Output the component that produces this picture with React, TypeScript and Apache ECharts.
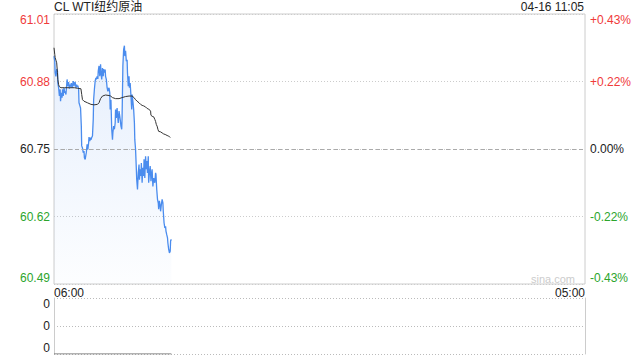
import React, { useEffect, useRef } from "react";
import * as echarts from "echarts";

const TITLE = "CL WTI纽约原油";
const STAMP = "04-16 11:05";
const WATERMARK = "sina.com";
const PREV_CLOSE = 60.75;
const PRICE_MIN = 60.49;
const PRICE_MAX = 61.01;
const PRICE_STEP = 0.13;
const SESSION_MINUTES = 1380; // 06:00 -> 05:00 next day

const xTickLabels = ["06:00", "05:00"];
const leftTickLabels = ["60.49", "60.62", "60.75", "60.88", "61.01"];
const rightTickLabels = ["-0.43%", "-0.22%", "0.00%", "+0.22%", "+0.43%"];
const volumeTickLabels = ["0", "0", "0"];

// minutes since 06:00
const priceMinutes = [
  0, 2, 3, 5, 7, 9, 10, 12, 14, 16, 17, 19, 21, 22, 24, 26, 28, 29, 31, 33,
  34, 36, 38, 40, 41, 43, 45, 47, 48, 50, 52, 53, 55, 57, 59, 60, 62, 64, 65, 67,
  69, 71, 72, 74, 76, 78, 79, 81, 83, 84, 86, 88, 90, 91, 93, 95, 96, 98, 100, 102,
  103, 105, 107, 109, 110, 112, 114, 115, 117, 119, 121, 122, 124, 126, 128, 129, 131, 133, 134, 136,
  138, 140, 141, 143, 145, 146, 148, 150, 152, 153, 155, 157, 159, 160, 162, 164, 165, 167, 169, 171,
  172, 174, 176, 177, 179, 181, 183, 184, 186, 188, 190, 191, 193, 195, 196, 198, 200, 202, 203, 205,
  207, 209, 210, 212, 214, 215, 217, 219, 221, 222, 224, 226, 227, 229, 231, 233, 234, 236, 238, 240,
  241, 243, 245, 246, 248, 250, 252, 253, 255, 257, 259, 260, 262, 264, 265, 267, 269, 271, 272, 274,
  276, 277, 279, 281, 283, 284, 286, 288, 290, 291, 293, 295, 296, 298, 300, 302, 303, 305,
];
const prices = [
  60.929, 60.919, 60.897, 60.89, 60.904, 60.9, 60.877, 60.868, 60.852, 60.865, 60.842, 60.858, 60.849, 60.865, 60.852, 60.868, 60.858, 60.861, 60.855, 60.874,
  60.884, 60.871, 60.879, 60.866, 60.874, 60.87, 60.877, 60.868, 60.872, 60.881, 60.871, 60.876, 60.879, 60.868, 60.874, 60.87, 60.872, 60.865, 60.839, 60.834,
  60.829, 60.794, 60.756, 60.752, 60.743, 60.746, 60.733, 60.73, 60.739, 60.743, 60.759, 60.749, 60.762, 60.773, 60.765, 60.772, 60.768, 60.772, 60.775, 60.807,
  60.845, 60.865, 60.881, 60.887, 60.884, 60.89, 60.885, 60.9, 60.91, 60.89, 60.913, 60.9, 60.884, 60.906, 60.89, 60.904, 60.897, 60.903, 60.89, 60.884,
  60.868, 60.861, 60.865, 60.868, 60.858, 60.826, 60.845, 60.788, 60.768, 60.781, 60.794, 60.788, 60.8, 60.826, 60.81, 60.829, 60.817, 60.8, 60.823, 60.813,
  60.807, 60.794, 60.788, 60.813, 60.91, 60.942, 60.949, 60.929, 60.939, 60.919, 60.922, 60.897, 60.871, 60.89, 60.868, 60.877, 60.852, 60.826, 60.855, 60.842,
  60.826, 60.8, 60.768, 60.749, 60.711, 60.691, 60.672, 60.704, 60.72, 60.691, 60.711, 60.698, 60.723, 60.685, 60.714, 60.698, 60.73, 60.694, 60.736, 60.711,
  60.727, 60.704, 60.736, 60.685, 60.704, 60.717, 60.688, 60.698, 60.711, 60.678, 60.694, 60.691, 60.685, 60.704, 60.701, 60.672, 60.653, 60.646, 60.634, 60.65,
  60.64, 60.63, 60.643, 60.653, 60.646, 60.63, 60.608, 60.598, 60.601, 60.592, 60.585, 60.579, 60.569, 60.557, 60.55, 60.553, 60.573, 60.576,
];

const avgMinutes = [
  0, 2, 3, 5, 7, 9, 10, 12, 14, 18, 27, 40, 53, 61, 70, 72, 74, 78, 87, 96,
  104, 113, 117, 121, 126, 134, 143, 147, 152, 160, 169, 177, 186, 195, 203, 208, 212, 216, 221, 225,
  229, 233, 238, 242, 246, 251, 252, 255, 259, 262, 264, 266, 268, 270, 272, 277, 281, 285, 289, 294,
  298, 302,
];
const avgPrices = [
  60.945, 60.932, 60.926, 60.921, 60.916, 60.897, 60.884, 60.874, 60.87, 60.868, 60.868, 60.868, 60.868, 60.867, 60.866, 60.855, 60.845, 60.842, 60.839, 60.836,
  60.835, 60.836, 60.839, 60.847, 60.852, 60.854, 60.853, 60.852, 60.849, 60.847, 60.847, 60.849, 60.851, 60.852, 60.852, 60.849, 60.845, 60.842, 60.839, 60.836,
  60.834, 60.833, 60.831, 60.828, 60.827, 60.823, 60.815, 60.813, 60.812, 60.807, 60.803, 60.797, 60.794, 60.788, 60.784, 60.783, 60.781, 60.779, 60.778, 60.776,
  60.775, 60.772,
];

const volumeMinutes = [0, 305];
const volumes = [0, 0];

const FONT = '"Liberation Sans", Arial, "Noto Sans CJK SC", sans-serif';
const RED = "#f03a3a";
const GREEN = "#2ca52c";
const DARK = "#222222";

function tickColor(i: number) {
  return i < 2 ? "g" : i === 2 ? "d" : "r";
}
function tickShift(i: number, last: number) {
  return i === 0 ? "B" : i === last ? "T" : "";
}
const rich = {
  g: { color: GREEN, fontSize: 12, fontFamily: FONT },
  d: { color: DARK, fontSize: 12, fontFamily: FONT },
  r: { color: RED, fontSize: 12, fontFamily: FONT },
  gB: { color: GREEN, fontSize: 12, fontFamily: FONT, padding: [0, 0, 13, 0] },
  rT: { color: RED, fontSize: 12, fontFamily: FONT, padding: [11, 0, 0, 0] },
  dB: { color: DARK, fontSize: 12, fontFamily: FONT, padding: [0, 0, 13, 0] },
  dT: { color: DARK, fontSize: 12, fontFamily: FONT, padding: [11, 0, 0, 0] },
};

export default function App() {
  const ref = useRef<HTMLDivElement>(null);
  useEffect(() => {
    if (!ref.current) return;
    const chart = echarts.init(ref.current, undefined, { renderer: "svg" });
    const priceData = priceMinutes.map((m, i) => [m, prices[i]]);
    const avgData = avgMinutes.map((m, i) => [m, avgPrices[i]]);
    const volData = volumeMinutes.map((m, i) => [m, volumes[i]]);
    chart.setOption({
      animation: false,
      textStyle: { fontFamily: FONT },
      title: [
        {
          text: TITLE,
          left: 54,
          top: 1,
          padding: 0,
          textStyle: { fontSize: 12, fontWeight: "normal", color: DARK, fontFamily: FONT },
        },
        {
          text: STAMP,
          right: 56,
          top: 1,
          padding: 0,
          textStyle: { fontSize: 12, fontWeight: "normal", color: DARK, fontFamily: FONT },
        },
      ],
      graphic: [
        {
          type: "text",
          right: 65,
          top: 273,
          style: { text: WATERMARK, fill: "#cccccc", font: `11px ${FONT}` },
        },
      ],
      grid: [
        { left: 54, right: 55, top: 14, height: 270, show: true, borderColor: "#cccccc", borderWidth: 1 },
        { left: 54, right: 55, top: 298, height: 56 },
      ],
      xAxis: [
        {
          gridIndex: 0,
          type: "value",
          min: 0,
          max: SESSION_MINUTES,
          interval: SESSION_MINUTES,
          axisLine: { show: false },
          axisTick: { show: false },
          splitLine: { show: false },
          axisLabel: {
            margin: 3,
            fontSize: 12,
            color: DARK,
            fontFamily: FONT,
            alignMinLabel: "left",
            alignMaxLabel: "right",
            formatter: (v: number) => (v === 0 ? xTickLabels[0] : xTickLabels[1]),
          },
        },
        { gridIndex: 1, type: "value", min: 0, max: SESSION_MINUTES, show: false },
      ],
      yAxis: [
        {
          gridIndex: 0,
          type: "value",
          position: "left",
          min: PRICE_MIN,
          max: PRICE_MAX,
          interval: PRICE_STEP,
          axisLine: { show: false },
          axisTick: { show: false },
          splitLine: { show: true, lineStyle: { color: "#cccccc", type: [1, 2], width: 1 } },
          axisLabel: {
            margin: 4,
            rich,
            formatter: (_v: number, i: number) =>
              `{${tickColor(i)}${tickShift(i, 4)}|${leftTickLabels[i] ?? ""}}`,
          },
        },
        {
          gridIndex: 0,
          type: "value",
          position: "right",
          min: PRICE_MIN,
          max: PRICE_MAX,
          interval: PRICE_STEP,
          axisLine: { show: false },
          axisTick: { show: false },
          splitLine: { show: false },
          axisLabel: {
            margin: 5,
            rich,
            formatter: (_v: number, i: number) =>
              `{${tickColor(i)}${tickShift(i, 4)}|${rightTickLabels[i] ?? ""}}`,
          },
        },
        {
          gridIndex: 1,
          type: "value",
          position: "left",
          min: 0,
          max: 2,
          interval: 1,
          axisLine: { show: true, onZero: false, lineStyle: { color: "#cccccc", width: 1 } },
          axisTick: { show: false },
          splitLine: { show: true, lineStyle: { color: "#bbbbbb", type: [1, 2], width: 1 } },
          axisLabel: {
            margin: 4,
            rich,
            formatter: (_v: number, i: number) =>
              `{d${tickShift(i, 2)}|${volumeTickLabels[i] ?? ""}}`,
          },
        },
        {
          gridIndex: 1,
          type: "value",
          position: "right",
          min: 0,
          max: 2,
          interval: 1,
          axisLine: { show: true, onZero: false, lineStyle: { color: "#cccccc", width: 1 } },
          axisTick: { show: false },
          splitLine: { show: false },
          axisLabel: { show: false },
        },
      ],
      series: [
        {
          name: "price",
          type: "line",
          xAxisIndex: 0,
          yAxisIndex: 0,
          data: priceData,
          showSymbol: false,
          symbol: "none",
          lineStyle: { color: "#4a8cee", width: 1.3 },
          areaStyle: {
            origin: "start",
            color: new echarts.graphic.LinearGradient(0, 0, 0, 1, [
              { offset: 0, color: "rgba(74,140,238,0.2)" },
              { offset: 1, color: "rgba(74,140,238,0.02)" },
            ]),
          },
          markLine: {
            silent: true,
            symbol: "none",
            label: { show: false },
            lineStyle: { color: "#aaaaaa", type: [4, 3], width: 1 },
            data: [{ yAxis: PREV_CLOSE }],
          },
          z: 3,
        },
        {
          name: "avg",
          type: "line",
          xAxisIndex: 0,
          yAxisIndex: 0,
          data: avgData,
          showSymbol: false,
          symbol: "none",
          lineStyle: { color: "#333333", width: 1 },
          z: 4,
        },
        {
          name: "volume",
          type: "line",
          xAxisIndex: 1,
          yAxisIndex: 2,
          data: volData,
          showSymbol: false,
          symbol: "none",
          lineStyle: { color: "#666666", width: 1.2 },
        },
      ],
    });
    return () => chart.dispose();
  }, []);
  return (
    <div
      ref={ref}
      style={{ position: "fixed", left: 0, top: 0, width: 640, height: 360, background: "#fff" }}
    />
  );
}
